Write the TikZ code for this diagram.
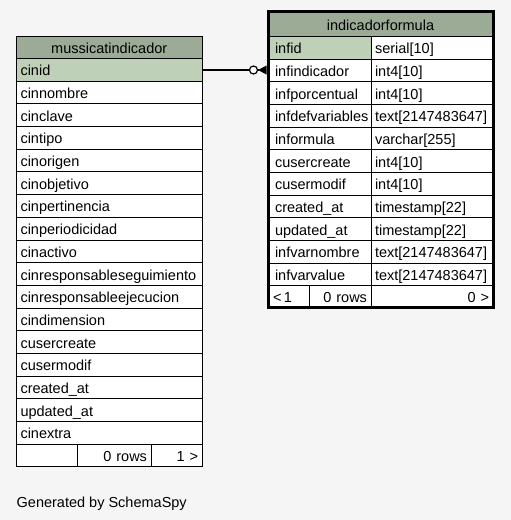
\documentclass[tikz,border=0pt]{standalone}
\usepackage{fontspec}
\setmainfont{Liberation Sans}
\definecolor{bgc}{HTML}{F5F5F5}
\definecolor{hdr}{HTML}{9BAB96}
\definecolor{pkc}{HTML}{BED1B8}
\newcommand{\tfont}{\fontsize{14.5}{16}\selectfont}
\hbadness=10000 \hfuzz=50pt
\tikzset{
  cellbase/.style={draw=black, line width=1pt, anchor=north west, inner sep=0pt, inner xsep=4pt,
    outer sep=0pt, text height=12pt, text depth=0pt, font=\tfont, fill=white},
  lcell/.style={cellbase, text width=177.5pt, minimum height=22.69pt, align=left},
  lhead/.style={lcell, fill=hdr, align=center, minimum height=22.5pt},
  rcolA/.style={cellbase, inner xsep=7pt, text width=89pt, minimum height=22.65pt, align=left},
  rcolB/.style={cellbase, text width=114pt, minimum height=22.65pt, align=left},
  rhead/.style={cellbase, fill=hdr, text width=217pt, minimum height=25pt, align=center},
  fcell/.style={cellbase, minimum height=#1, align=right},
  fcellL/.style={cellbase, inner xsep=5pt, minimum height=#1, align=left},
}
\begin{document}
\begin{tikzpicture}[x=1pt,y=-1pt]
\useasboundingbox (0,0) rectangle (511,520);
\fill[bgc] (0,0) rectangle (511,520);

% ---- left table: mussicatindicador ----
\node[lhead] (mhead) at (16.5,36) {mussicatindicador};
\node[lcell, fill=pkc] (cinid) at (16.5,58.5) {cinid};
\node[lcell] (cinnombre) at (16.5,81.19) {cinnombre};
\node[lcell] (cinclave) at (16.5,103.88) {cinclave};
\node[lcell] (cintipo) at (16.5,126.57) {cintipo};
\node[lcell] (cinorigen) at (16.5,149.26) {cinorigen};
\node[lcell] (cinobjetivo) at (16.5,171.95) {cinobjetivo};
\node[lcell] (cinpertinencia) at (16.5,194.64) {cinpertinencia};
\node[lcell] (cinperiodicidad) at (16.5,217.33) {cinperiodicidad};
\node[lcell] (cinactivo) at (16.5,240.02) {cinactivo};
\node[lcell] (cinrs) at (16.5,262.71) {cinresponsableseguimiento};
\node[lcell] (cinre) at (16.5,285.4) {cinresponsableejecucion};
\node[lcell] (cindimension) at (16.5,308.09) {cindimension};
\node[lcell] (lcusercreate) at (16.5,330.78) {cusercreate};
\node[lcell] (lcusermodif) at (16.5,353.47) {cusermodif};
\node[lcell] (lcreated) at (16.5,376.16) {created\_at};
\node[lcell] (lupdated) at (16.5,398.85) {updated\_at};
\node[lcell] (cinextra) at (16.5,421.54) {cinextra};
\node[fcell=22.4pt, text width=53.2pt] (lf1) at (16.5,444.23) {};
\node[fcell=22.4pt, text width=65.3pt] (lf2) at (77.7,444.23) {0 rows};
\node[fcell=22.4pt, text width=43pt] (lf3) at (151,444.23) {1 >};

% ---- right table: indicadorformula ----
\node[rhead] (ihead) at (268,11.5) {indicadorformula};
\node[rcolA, fill=pkc] (infid) at (268,36.5) {infid};
\node[rcolB] (infidT) at (371,36.5) {serial[10]};
\node[rcolA] (infindicador) at (268,59.15) {infindicador};
\node[rcolB] (infindicadorT) at (371,59.15) {int4[10]};
\node[rcolA] (infporcentual) at (268,81.8) {infporcentual};
\node[rcolB] (infporcentualT) at (371,81.8) {int4[10]};
\node[rcolA] (infdefvariables) at (268,104.45) {infdefvariables};
\node[rcolB] (infdefvariablesT) at (371,104.45) {text[2147483647]};
\node[rcolA] (informula) at (268,127.1) {informula};
\node[rcolB] (informulaT) at (371,127.1) {varchar[255]};
\node[rcolA] (rcusercreate) at (268,149.75) {cusercreate};
\node[rcolB] (rcusercreateT) at (371,149.75) {int4[10]};
\node[rcolA] (rcusermodif) at (268,172.4) {cusermodif};
\node[rcolB] (rcusermodifT) at (371,172.4) {int4[10]};
\node[rcolA] (rcreated) at (268,195.05) {created\_at};
\node[rcolB] (rcreatedT) at (371,195.05) {timestamp[22]};
\node[rcolA] (rupdated) at (268,217.7) {updated\_at};
\node[rcolB] (rupdatedT) at (371,217.7) {timestamp[22]};
\node[rcolA] (infvarnombre) at (268,240.35) {infvarnombre};
\node[rcolB] (infvarnombreT) at (371,240.35) {text[2147483647]};
\node[rcolA] (infvarvalue) at (268,263) {infvarvalue};
\node[rcolB] (infvarvalueT) at (371,263) {text[2147483647]};
\node[fcellL=22pt, text width=31pt] (rf1) at (268,285.65) {<\,1};
\node[fcell=22pt, text width=54pt] (rf2) at (309,285.65) {0 rows};
\node[fcell=22pt, text width=114pt] (rf3) at (371,285.65) {0 >};
\draw[line width=3pt] (ihead.north west) rectangle (rf3.south east);

% ---- relationship ----
\node[circle, draw=black, line width=1.2pt, fill=white, minimum size=8pt, inner sep=0pt] (odot) at (253.5,70) {};
\coordinate (crowtip) at (258,70);
\draw[line width=1.2pt] (cinid.east |- odot.west) -- (odot.west);
\fill[black] (crowtip) -- (266.5,65.5) -- (266.5,74.5) -- cycle;
\draw[line width=1.2pt] (odot.east) -- (crowtip);

% ---- caption ----
\node[anchor=base west, inner sep=0pt, font=\tfont] (gen) at (16.5,507) {Generated by SchemaSpy};
\end{tikzpicture}
\end{document}
